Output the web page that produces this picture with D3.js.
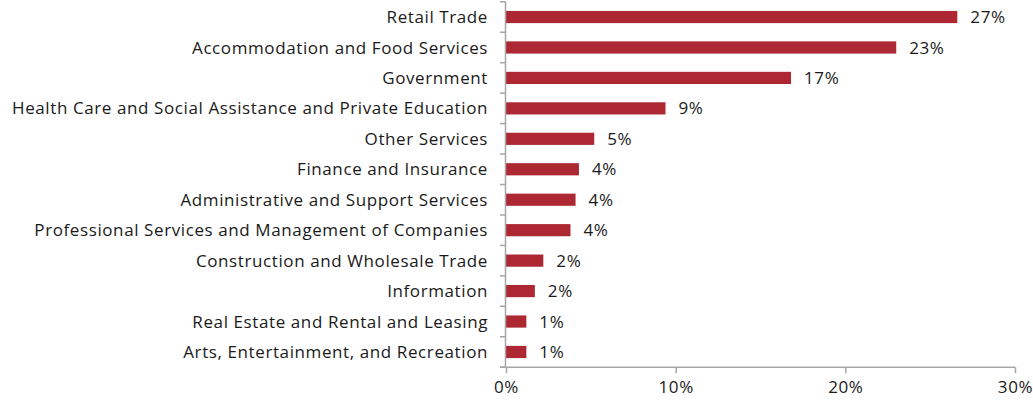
<!DOCTYPE html>
<html>
<head>
<meta charset="utf-8">
<script src="https://cdn.jsdelivr.net/npm/d3@7"></script>
<style>
  html, body { margin: 0; padding: 0; background: #fff; }
  svg { display: block; font-family: "Open Sans", "Liberation Sans", Arial, sans-serif; letter-spacing: 0.6px; }
</style>
</head>
<body>
<svg id="chart" width="1033" height="404"></svg>
<script>
// Share of employment by industry
const industries = [
  "Retail Trade",
  "Accommodation and Food Services",
  "Government",
  "Health Care and Social Assistance and Private Education",
  "Other Services",
  "Finance and Insurance",
  "Administrative and Support Services",
  "Professional Services and Management of Companies",
  "Construction and Wholesale Trade",
  "Information",
  "Real Estate and Rental and Leasing",
  "Arts, Entertainment, and Recreation"
];
const shares = [0.266, 0.230, 0.168, 0.094, 0.052, 0.043, 0.041, 0.038, 0.022, 0.017, 0.012, 0.012];
const xTicks = [0, 0.1, 0.2, 0.3];

const svg = d3.select("#chart");
const fontSize = 17;

const x = d3.scaleLinear().domain([0, 0.3]).range([506, 1015]);
const y = d3.scaleBand().domain(industries).range([1.8, 367.2]).paddingInner(0.6).paddingOuter(0.3);

const axisColor = "#a6a6a6";
const textColor = "#1a1a1a";
const pct = d3.format(".0%");

// bars
svg.append("g").selectAll("rect")
  .data(industries)
  .join("rect")
  .attr("x", x(0))
  .attr("y", d => y(d))
  .attr("width", (d, i) => x(shares[i]) - x(0))
  .attr("height", y.bandwidth())
  .attr("fill", "#ad2833");

// value labels
svg.append("g").selectAll("text")
  .data(industries)
  .join("text")
  .attr("x", (d, i) => x(shares[i]) + 13)
  .attr("y", d => y(d) + y.bandwidth() / 2)
  .attr("dy", "0.36em")
  .attr("font-size", fontSize)
  .attr("fill", textColor)
  .text((d, i) => pct(shares[i]));

// category axis with ticks on band boundaries
const step = y.step();
const bandTop = y.range()[0];
const boundaries = d3.range(industries.length + 1).map(i => bandTop + i * step);
const yAxisG = svg.append("g");
yAxisG.append("line")
  .attr("x1", x(0) - 0.5).attr("x2", x(0) - 0.5)
  .attr("y1", bandTop).attr("y2", boundaries[boundaries.length - 1])
  .attr("stroke", axisColor).attr("stroke-width", 1.5);
yAxisG.selectAll("line.tick")
  .data(boundaries)
  .join("line")
  .attr("class", "tick")
  .attr("x1", x(0) - 6).attr("x2", x(0))
  .attr("y1", d => d).attr("y2", d => d)
  .attr("stroke", axisColor).attr("stroke-width", 1.5);
yAxisG.selectAll("text")
  .data(industries)
  .join("text")
  .attr("x", 488)
  .attr("y", d => y(d) + y.bandwidth() / 2)
  .attr("dy", "0.36em")
  .attr("text-anchor", "end")
  .attr("font-size", fontSize)
  .attr("fill", textColor)
  .text(d => d);

// value axis
const axisY = boundaries[boundaries.length - 1];
const xAxis = d3.axisBottom(x).tickValues(xTicks).tickFormat(pct).tickSizeOuter(0).tickSize(6).tickPadding(8);
const xg = svg.append("g").attr("transform", `translate(0,${axisY})`).call(xAxis);
xg.select(".domain").attr("stroke", axisColor).attr("stroke-width", 1.5)
  .attr("d", `M${x(0) - 6},0H${x(0.3)}`);
xg.selectAll(".tick line").attr("stroke", axisColor).attr("stroke-width", 1.5);
xg.selectAll(".tick text").attr("font-size", fontSize).attr("fill", textColor)
  .attr("font-family", "Open Sans, Liberation Sans, Arial, sans-serif");
</script>
</body>
</html>
